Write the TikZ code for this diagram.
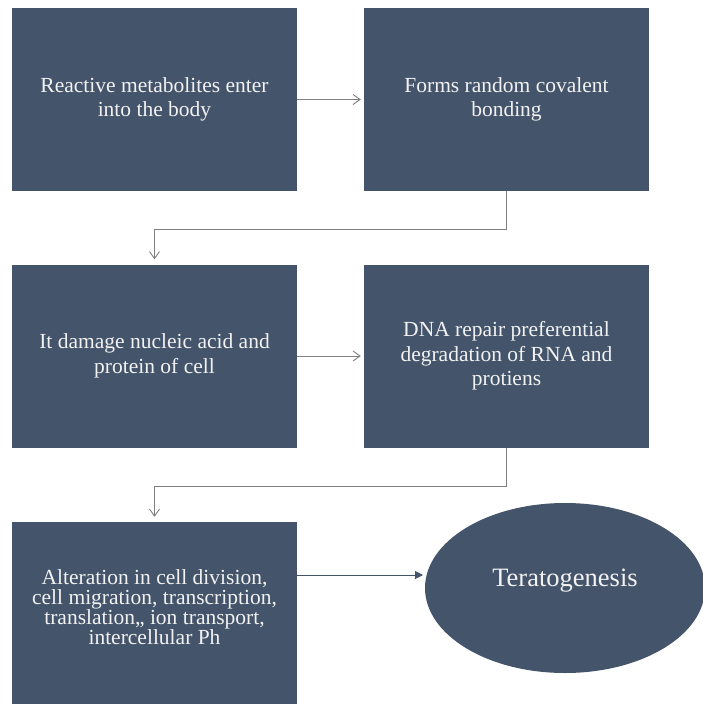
\documentclass[tikz,border=0pt]{standalone}
\usepackage{fontspec}
\setmainfont{LiberationSerif}[Extension=.ttf, UprightFont=*-Regular, BoldFont=*-Bold, ItalicFont=*-Italic, BoldItalicFont=*-BoldItalic]
\usetikzlibrary{arrows.meta,shapes.geometric}
\definecolor{boxblue}{HTML}{44546A}
\definecolor{boxtext}{HTML}{F2F2F2}
\definecolor{linkgray}{HTML}{7F7F7F}
\tikzset{
  stepbox/.style={draw=none, fill=boxblue, text=boxtext, minimum width=285pt, minimum height=183pt,
    inner sep=0pt, align=center, font=\fontsize{21.5}{24.5}\selectfont},
  link/.style={draw=linkgray, line width=0.9pt, -{Straight Barb[length=7pt,width=10pt,line width=0.9pt]}},
  finallink/.style={draw=boxblue, line width=1pt, -{Triangle[length=8pt,width=8pt]}},
}
\begin{document}
\begin{tikzpicture}[x=1pt,y=-1pt]
\useasboundingbox[fill=white] (0,0) rectangle (703,704);
\node[stepbox] (b1) at (154.5,99.5) {Reactive metabolites enter\\into the body};
\node[stepbox] (b2) at (506.5,99.5) {Forms random covalent\\bonding};
\node[stepbox] (b3) at (154.5,356) {It damage nucleic acid and\\protein of cell};
\node[stepbox] (b4) at (506.5,356) {DNA repair preferential\\degradation of RNA and\\protiens};
\node[stepbox, minimum height=183pt, font=\fontsize{21.5}{19.5}\selectfont] (b5) at (154.5,613.5) {Alteration in cell division,\\cell migration, transcription,\\translation,, ion transport,\\intercellular Ph\\[-7pt]\mbox{}};
\node[ellipse, fill=boxblue, text=boxtext, minimum width=280pt, minimum height=170pt, inner sep=0pt,
  font=\fontsize{26.5}{30}\selectfont] (te) at (565,588) {\raisebox{1.5pt}[0pt][0pt]{Teratogenesis}};
\draw[link, shorten >=3pt] (b1.east) -- (b2.west);
\draw[link, shorten >=3pt] (b3.east) -- (b4.west);
\coordinate (e1) at (506.5,229);
\coordinate (e2) at (154.5,229);
\draw[link, shorten >=5pt] (b2.south) -- (e1) -- (e2) -- (b3.north);
\coordinate (f1) at (506.5,486);
\coordinate (f2) at (154.5,486);
\draw[link, shorten >=5pt] (b4.south) -- (f1) -- (f2) -- (b5.north);
\coordinate (g1) at (297,575);
\coordinate (g2) at (425,575);
\draw[finallink, shorten >=2pt] (g1) -- (g2);
\end{tikzpicture}
\end{document}
